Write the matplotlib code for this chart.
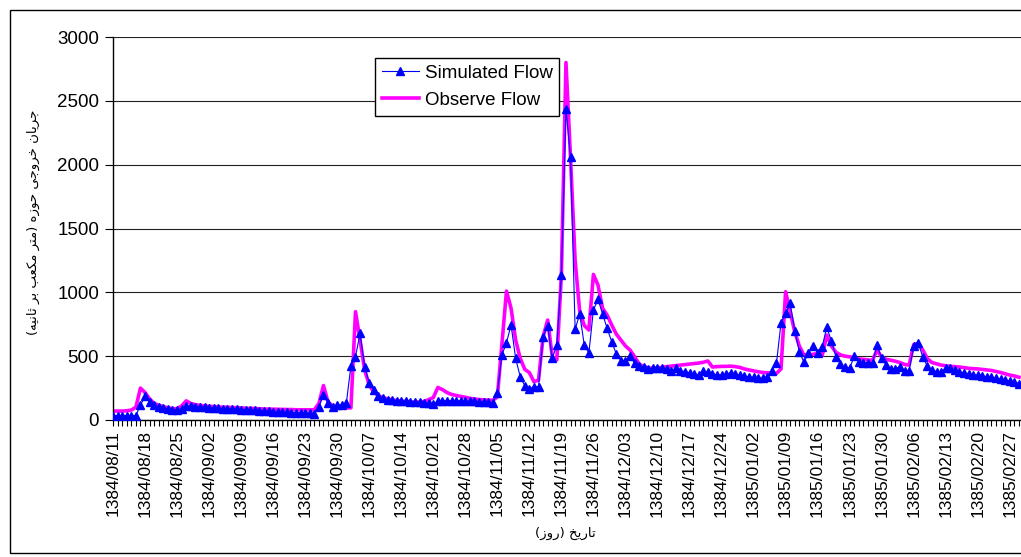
import numpy as np
import matplotlib
matplotlib.use('Agg')
import matplotlib.pyplot as plt
from matplotlib.patches import Rectangle

# 日流量数据 (m3/s)，从 1384/08/11 起每天一个值
obs_flow = [
    70, 70, 70, 72, 78, 100, 250, 215, 165, 130,          # 0-9
    115, 105, 95, 90, 88, 110, 150, 130, 120, 115,        # 10-19
    110, 108, 105, 102, 100, 100, 98, 95, 95, 92,         # 20-29
    90, 90, 88, 86, 85, 85, 84, 83, 82, 82,               # 30-39
    80, 80, 80, 80, 80, 130, 270, 140, 110, 100,          # 40-49
    95, 95, 95, 848, 626, 392, 274, 220, 190, 175,        # 50-59
    165, 158, 152, 148, 145, 142, 140, 140, 145, 160,     # 60-69
    175, 255, 238, 215, 200, 192, 185, 178, 170, 165,     # 70-79
    160, 158, 155, 155, 180, 600, 1010, 875, 627, 483,    # 80-89
    397, 371, 300, 313, 653, 783, 496, 470, 1140, 2800,   # 90-99
    2050, 1250, 850, 740, 705, 1140, 1057, 875, 822, 744, # 100-109
    673, 627, 580, 548, 496, 438, 418, 408, 405, 408,     # 110-119
    412, 418, 422, 426, 430, 434, 438, 442, 446, 452,     # 120-129
    462, 415, 418, 420, 420, 422, 418, 412, 400, 392,     # 130-139
    385, 378, 372, 370, 368, 365, 400, 1005, 850, 690,    # 140-149
    580, 510, 510, 515, 520, 505, 665, 580, 530, 510,     # 150-159
    500, 495, 485, 478, 475, 470, 468, 550, 490, 475,     # 160-169
    468, 460, 450, 435, 430, 590, 600, 548, 480, 450,     # 170-179
    440, 430, 425, 420, 418, 415, 410, 405, 402, 400,     # 180-189
    396, 392, 388, 380, 372, 362, 352, 345, 335,          # 190-198
]

sim_flow = [
    35, 35, 35, 35, 35, 35, 117, 185, 140, 115,           # 0-9
    100, 92, 85, 80, 80, 85, 110, 110, 105, 100,          # 10-19
    98, 95, 95, 92, 90, 88, 85, 85, 82, 80,               # 20-29
    78, 75, 72, 70, 68, 65, 65, 62, 60, 58,               # 30-39
    58, 56, 55, 52, 50, 105, 195, 136, 104, 117,          # 40-49
    120, 133, 423, 496, 679, 418, 290, 235, 188, 170,     # 50-59
    160, 155, 150, 148, 145, 142, 140, 138, 135, 132,     # 60-69
    128, 145, 150, 150, 152, 150, 150, 148, 147, 145,     # 70-79
    143, 140, 138, 135, 214, 509, 606, 744, 483, 339,     # 80-89
    269, 243, 261, 261, 653, 736, 483, 587, 1136, 2434,   # 90-99
    2058, 710, 830, 587, 522, 862, 945, 830, 718, 613,    # 100-109
    517, 465, 465, 501, 444, 425, 412, 397, 405, 405,     # 110-119
    410, 397, 386, 405, 386, 378, 370, 360, 352, 386,     # 120-129
    375, 360, 355, 352, 360, 370, 360, 352, 344, 339,     # 130-139
    333, 328, 330, 335, 386, 444, 760, 836, 914, 700,     # 140-149
    535, 453, 522, 577, 525, 574, 727, 621, 496, 440,     # 150-159
    412, 405, 500, 457, 450, 450, 450, 587, 483, 431,     # 160-169
    403, 403, 418, 386, 386, 577, 604, 491, 420, 392,     # 170-179
    379, 379, 405, 405, 395, 379, 370, 363, 355, 350,     # 180-189
    345, 340, 335, 328, 320, 313, 305, 298, 285,          # 190-198
]

date_labels = [
    '1384/08/11', '1384/08/18', '1384/08/25', '1384/09/02', '1384/09/09',
    '1384/09/16', '1384/09/23', '1384/09/30', '1384/10/07', '1384/10/14',
    '1384/10/21', '1384/10/28', '1384/11/05', '1384/11/12', '1384/11/19',
    '1384/11/26', '1384/12/03', '1384/12/10', '1384/12/17', '1384/12/24',
    '1385/01/02', '1385/01/09', '1385/01/16', '1385/01/23', '1385/01/30',
    '1385/02/06', '1385/02/13', '1385/02/20', '1385/02/27',
]

ylabel_fa = 'جریان خروجی حوزه (متر مکعب بر ثانیه)'
xlabel_fa = 'تاریخ (روز)'

# 波斯文字形表: 独立, 词尾, 词首, 词中
FORMS = {
    'ا': ('\uFE8D', '\uFE8E', None, None),
    'ب': ('\uFE8F', '\uFE90', '\uFE91', '\uFE92'),
    'ت': ('\uFE95', '\uFE96', '\uFE97', '\uFE98'),
    'ث': ('\uFE99', '\uFE9A', '\uFE9B', '\uFE9C'),
    'ج': ('\uFE9D', '\uFE9E', '\uFE9F', '\uFEA0'),
    'ح': ('\uFEA1', '\uFEA2', '\uFEA3', '\uFEA4'),
    'خ': ('\uFEA5', '\uFEA6', '\uFEA7', '\uFEA8'),
    'ر': ('\uFEAD', '\uFEAE', None, None),
    'ز': ('\uFEAF', '\uFEB0', None, None),
    'ع': ('\uFEC9', '\uFECA', '\uFECB', '\uFECC'),
    'م': ('\uFEE1', '\uFEE2', '\uFEE3', '\uFEE4'),
    'ن': ('\uFEE5', '\uFEE6', '\uFEE7', '\uFEE8'),
    'ه': ('\uFEE9', '\uFEEA', '\uFEEB', '\uFEEC'),
    'و': ('\uFEED', '\uFEEE', None, None),
    'ی': ('\uFBFC', '\uFBFD', '\uFBFE', '\uFBFF'),
    'ک': ('\uFB8E', '\uFB8F', '\uFB90', '\uFB91'),
}


def shape_fa(text):
    """简单的波斯文连写 + 从右到左排列"""
    def dual(c):
        return c in FORMS and FORMS[c][2] is not None
    out = []
    for i, c in enumerate(text):
        if c not in FORMS:
            out.append(c)
            continue
        prev = text[i - 1] if i > 0 else ''
        nxt = text[i + 1] if i + 1 < len(text) else ''
        p = dual(prev)
        n = dual(c) and nxt in FORMS
        iso, fin, ini, med = FORMS[c]
        if p and n:
            out.append(med)
        elif p:
            out.append(fin)
        elif n:
            out.append(ini)
        else:
            out.append(iso)
    s = ''.join(reversed(out))
    return s.translate(str.maketrans('()', ')('))


plt.rcParams['font.family'] = ['Liberation Sans', 'DejaVu Sans']

fig = plt.figure(figsize=(10.21, 5.57), dpi=100)
ax = fig.add_axes([113 / 1021, 137 / 557, 908 / 1021, 383 / 557])

days = np.arange(len(obs_flow))
l_obs, = ax.plot(days, obs_flow, color='#FF00FF', lw=2.6, zorder=2)
l_sim, = ax.plot(days, sim_flow, color='#0000FF', lw=0.8, marker='^', ms=6,
                 mec='#0000FF', mfc='#0000FF', zorder=3)

ax.set_xlim(0, 198.45)
ax.set_ylim(0, 3000)
ax.set_yticks(np.arange(0, 3001, 500))
ax.yaxis.grid(True, color='#222222', lw=0.8)
ax.set_axisbelow(True)

ax.set_xticks(np.arange(0, len(date_labels) * 7, 7))
ax.set_xticklabels(date_labels, rotation=90)
ax.set_xticks(days, minor=True)
ax.tick_params(axis='x', which='both', direction='out', length=4, width=0.8,
               labelsize=12.5, pad=3)
ax.tick_params(axis='y', direction='out', length=6, width=0.8,
               labelsize=13.5, pad=4)

for side in ['top', 'right']:
    ax.spines[side].set_visible(False)
for side in ['left', 'bottom']:
    ax.spines[side].set_color('black')
    ax.spines[side].set_linewidth(1.0)

leg = ax.legend([l_sim, l_obs], ['Simulated Flow', 'Observe Flow'],
                loc='upper left', bbox_to_anchor=(0.2885, 0.945),
                fontsize=13.5, handlelength=2.0, handletextpad=0.3,
                borderpad=0.36, labelspacing=0.52, borderaxespad=0,
                fancybox=False, framealpha=1, numpoints=1)
leg.get_frame().set_edgecolor('black')
leg.get_frame().set_linewidth(1.0)

fig.text(33 / 1021, 1 - 222 / 557, shape_fa(ylabel_fa), rotation=90,
         ha='center', va='center', fontsize=9.5, family=['DejaVu Sans'])
fig.text(565 / 1021, 1 - 533 / 557, shape_fa(xlabel_fa),
         ha='center', va='center', fontsize=9.5, family=['DejaVu Sans'])

# 外边框
fig.add_artist(Rectangle((10 / 1021, 4 / 557), 1.2, 543 / 557,
                         transform=fig.transFigure, fill=False,
                         ec='black', lw=1.0))

fig.savefig('out.png', dpi=100)
